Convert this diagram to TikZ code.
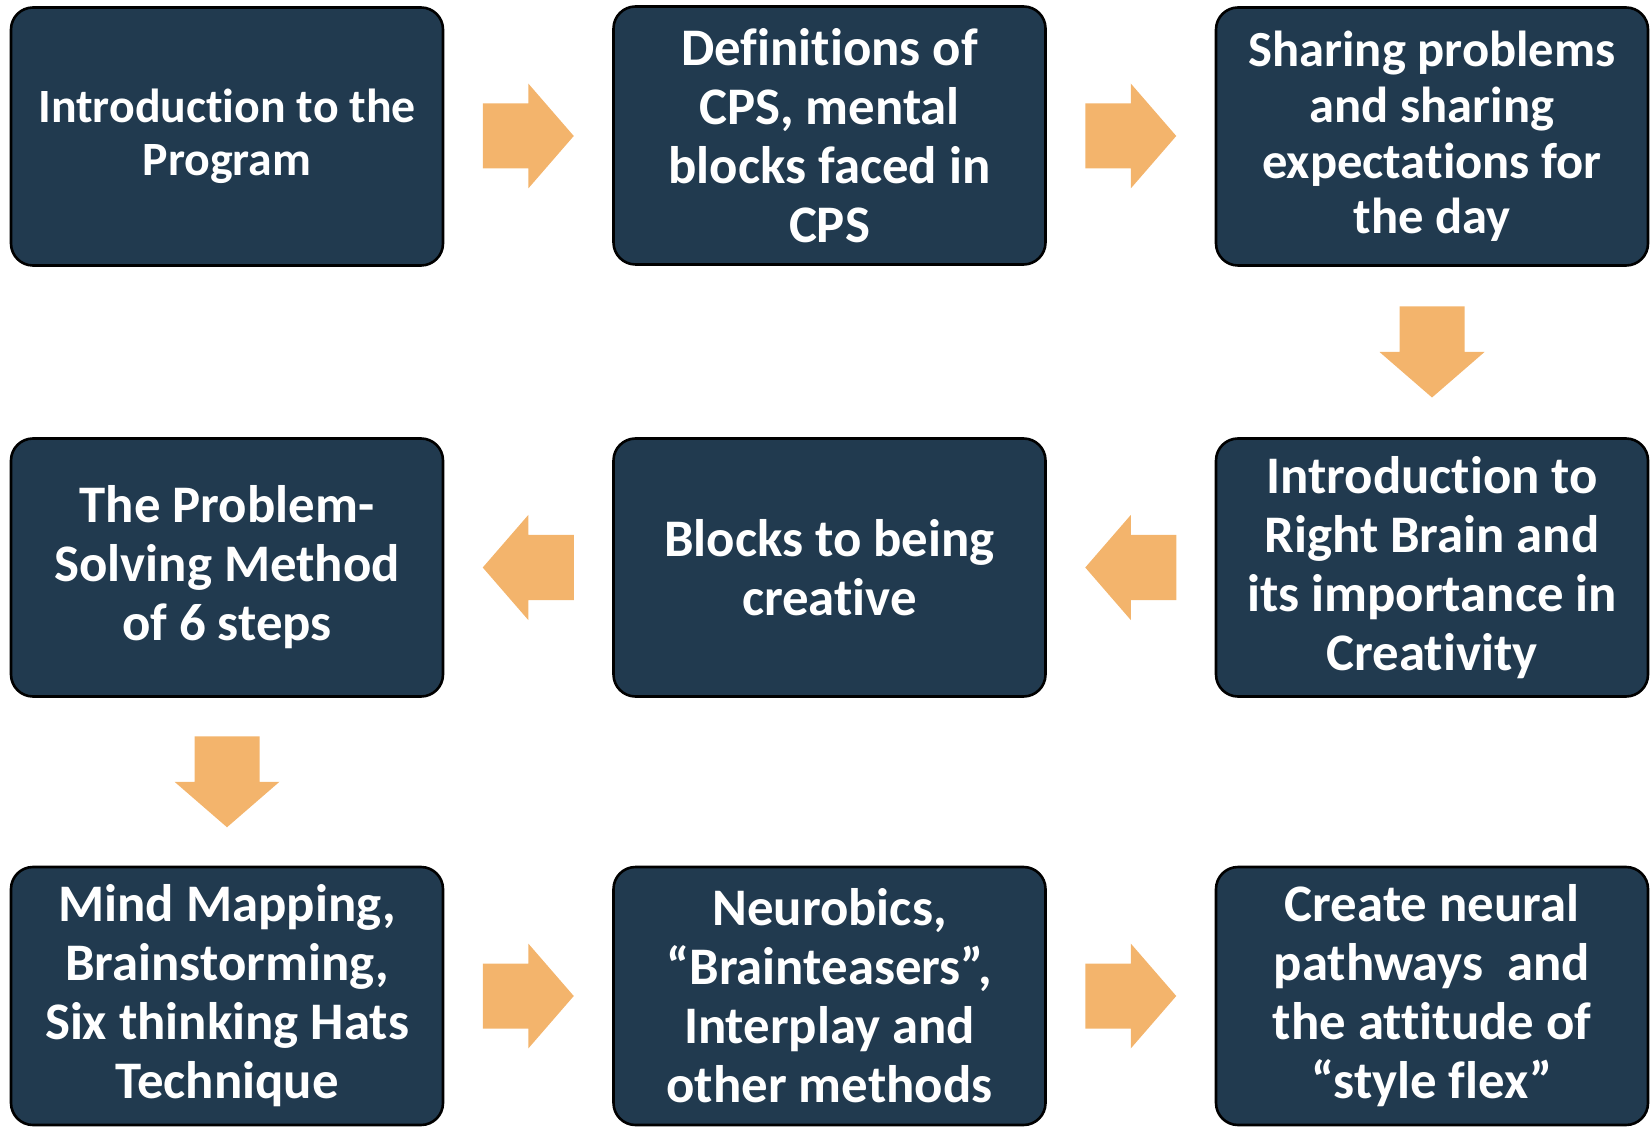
\documentclass[tikz,border=0pt]{standalone}
\usepackage{fontspec}
\setmainfont[RawFeature={-liga;-clig;-calt;-dlig}]{Carlito}
\usepackage{xcolor}
\usetikzlibrary{calc}

\definecolor{boxnavy}{RGB}{33,58,79}
\definecolor{arroworange}{RGB}{243,180,108}

\tikzset{
  stepbox/.style={draw=black, line width=1.3pt, fill=boxnavy, rounded corners=11pt,
    minimum width=216pt, minimum height=129pt, align=center, text=white,
    font=\bfseries\fontsize{26.4}{29.5}\selectfont, inner sep=0pt},
  blockarrow/.pic={\fill[arroworange] (-45.5,-32.5) -- (0,-32.5) -- (0,-52.5) -- (45.5,0) -- (0,52.5) -- (0,32.5) -- (-45.5,32.5) -- cycle;}
}

\begin{document}
\begin{tikzpicture}[x=0.5pt,y=0.5pt,yscale=-1,xscale=1]
\useasboundingbox (0,0) rectangle (1652,1127);

% Row 1
\node [stepbox, font=\bfseries\fontsize{23.9}{26.3}\selectfont] (intro) at (227,136.5) {Introduction to the\\Program};
\node [stepbox] (defs) at (829.5,135.5) {Definitions of\\CPS, mental\\blocks faced in\\CPS};
\node [stepbox, font=\bfseries\fontsize{25.3}{27.9}\selectfont] (sharing) at (1432,136.5) {Sharing problems\\and sharing\\expectations for\\the day};

% Row 2
\node [stepbox] (rightbrain) at (1432,567.5) {Introduction to\\Right Brain and\\its importance in\\Creativity};
\node [stepbox] (blocks) at (829.5,567.5) {Blocks to being\\creative};
\node [stepbox] (method) at (227,567.5) {The Problem-\\Solving Method\\of 6 steps};

% Row 3
\node [stepbox] (mindmap) at (227,996) {Mind Mapping,\\Brainstorming,\\Six thinking Hats\\Technique};
\node [stepbox] (neurobics) at (829.5,996) {Neurobics,\\“Brainteasers”,\\Interplay and\\other methods};
\node [stepbox] (neural) at (1432,996) {Create neural\\pathways~ and\\the attitude of\\“style flex”};

% Block arrows
\pic at ($(intro.east)!0.5!(defs.west)$) {blockarrow};
\pic at ($(defs.east)!0.5!(sharing.west)$) {blockarrow};
\pic [rotate=-90] at ($(sharing.south)!0.5!(rightbrain.north)$) {blockarrow};
\pic [rotate=180] at ($(rightbrain.west)!0.5!(blocks.east)$) {blockarrow};
\pic [rotate=180] at ($(blocks.west)!0.5!(method.east)$) {blockarrow};
\pic [rotate=-90] at ($(method.south)!0.5!(mindmap.north)$) {blockarrow};
\pic at ($(mindmap.east)!0.5!(neurobics.west)$) {blockarrow};
\pic at ($(neurobics.east)!0.5!(neural.west)$) {blockarrow};

\end{tikzpicture}
\end{document}
